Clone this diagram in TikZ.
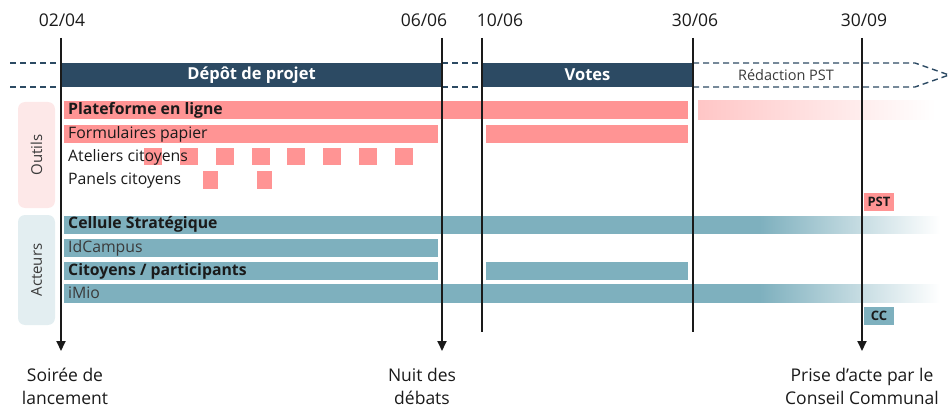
\documentclass[tikz,border=0pt]{standalone}
\usepackage{fontspec}
\setmainfont{Open Sans}
\usetikzlibrary{arrows.meta}
\definecolor{navy}{HTML}{2C4A63}
\definecolor{pinkbar}{HTML}{FF9494}
\definecolor{pinkfade}{HTML}{FFC6C6}
\definecolor{tealbar}{HTML}{7EB0BE}
\definecolor{outilsbg}{HTML}{FDE8E8}
\definecolor{acteursbg}{HTML}{E3EEF1}
\definecolor{txt}{HTML}{1A1A1A}
\definecolor{txtgrey}{HTML}{3A3A3A}
\pgfdeclarehorizontalshading{tealfade}{100bp}{color(0bp)=(tealbar); color(25bp)=(tealbar); color(64.7bp)=(tealbar); color(75bp)=(white); color(100bp)=(white)}
\pgfdeclarehorizontalshading{pinkfadeout}{100bp}{color(0bp)=(pinkfade); color(25bp)=(pinkfade); color(73bp)=(white); color(100bp)=(white)}
\tikzset{
  datelabel/.style={font=\fontsize{17.5}{20}\selectfont, text=txt, inner sep=0pt},
  phasebox/.style={fill=navy, text=white, font=\fontsize{16.5}{20}\selectfont\bfseries, inner sep=0pt},
  dashline/.style={draw=navy, line width=1.4pt, dash pattern=on 6pt off 4pt},
  rowtext/.style={anchor=west, font=\fontsize{15.8}{18}\selectfont, text=txt, inner sep=0pt},
  rowgrey/.style={anchor=west, font=\fontsize{15.8}{18}\selectfont, text=txtgrey, inner sep=0pt},
  sidebox/.style={rotate=90, rounded corners=7pt, minimum height=37pt, inner sep=0pt, text=txtgrey, font=\fontsize{15}{18}\selectfont},
  vline/.style={draw=txt, line width=1.8pt},
  varrow/.style={draw=txt, line width=1.8pt, -{Triangle[length=10pt,width=9pt]}},
  bottomlabel/.style={align=center, font=\fontsize{17.5}{23}\selectfont, text=txt, inner sep=0pt},
  tag/.style={inner sep=0pt, minimum width=30pt, minimum height=18pt, font=\fontsize{13}{15}\selectfont\bfseries, text=txt},
}
\begin{document}
\begin{tikzpicture}[x=1pt,y=-1pt]
\useasboundingbox (0,0) rectangle (951,412);

% side boxes
\node[sidebox, fill=outilsbg, minimum width=106pt] (outils) at (36.5,155) {Outils};
\node[sidebox, fill=acteursbg, minimum width=110pt] (acteurs) at (36.5,270) {Acteurs};

% dashed band
\draw[dashline] (10,63) -- (61,63);
\draw[dashline] (10,87) -- (61,87);
\draw[dashline] (442,63) -- (482,63);
\draw[dashline] (442,87) -- (482,87);
\draw[dashline] (693,63) -- (915,63) -- (949,75) -- (915,87) -- (693,87);

% phases
\node[phasebox, minimum width=381pt, minimum height=24pt] (depot) at (251.5,75) {Dépôt de projet};
\node[phasebox, minimum width=211pt, minimum height=24pt] (votes) at (587.5,75) {Votes};
\node[datelabel, font=\fontsize{14.5}{18}\selectfont, text=txtgrey] (redac) at (786,75) {Rédaction PST};

% Outils rows
\fill[pinkbar] (64,101) rectangle (688,119);
\shade[shading=pinkfadeout] (698,101) rectangle (945,119);
\node[rowtext] (plat) at (68,110) {\bfseries Plateforme en ligne};
\fill[pinkbar] (64,125) rectangle (438,143);
\fill[pinkbar] (486,125) rectangle (688,143);
\node[rowtext] (form) at (68,134) {Formulaires papier};
\foreach \x in {144,180,216,252,287,323,359,395}
  \fill[pinkbar] (\x,148) rectangle ++(18,17);
\node[rowtext] (atel) at (68,157) {Ateliers citoyens};
\fill[pinkbar] (203,171) rectangle (218,189);
\fill[pinkbar] (257,171) rectangle (272,189);
\node[rowtext] (panel) at (68,180) {Panels citoyens};
\node[tag, fill=pinkbar] (pst) at (879,202) {PST};

% Acteurs rows
\shade[shading=tealfade] (64,216) rectangle (940,233);
\node[rowtext] (cell) at (68,224.5) {\bfseries Cellule Stratégique};
\fill[tealbar] (64,239) rectangle (438,257);
\node[rowgrey] (idc) at (68,248) {IdCampus};
\fill[tealbar] (64,262) rectangle (438,280);
\fill[tealbar] (486,262) rectangle (688,280);
\node[rowtext] (cit) at (68,271) {\bfseries Citoyens / participants};
\shade[shading=tealfade] (64,284) rectangle (940,302);
\node[rowgrey] (imio) at (68,293) {iMio};
\node[tag, fill=tealbar] (cc) at (879,315.5) {CC};

% dates
\node[datelabel] (d1) at (62,20) {02/04};
\node[datelabel] (d2) at (424,20) {06/06};
\node[datelabel] (d3) at (500,20) {10/06};
\node[datelabel] (d4) at (695,20) {30/06};
\node[datelabel] (d5) at (864,20) {30/09};

% bottom labels
\node[bottomlabel] (soiree) at (65,386) {Soirée de\\lancement};
\node[bottomlabel] (nuit) at (422,386) {Nuit des\\débats};
\node[bottomlabel] (prise) at (862,386) {Prise d’acte par le\\Conseil Communal};

% vertical lines
\coordinate (t1) at (61,38);  \coordinate (b1) at (61,351);
\coordinate (t2) at (442,38); \coordinate (b2) at (442,351);
\coordinate (t3) at (482,38); \coordinate (b3) at (482,332);
\coordinate (t4) at (693,38); \coordinate (b4) at (693,332);
\coordinate (t5) at (862,38); \coordinate (b5) at (862,351);
\draw[varrow] (t1) -- (b1);
\draw[varrow] (t2) -- (b2);
\draw[vline] (t3) -- (b3);
\draw[vline] (t4) -- (b4);
\draw[varrow] (t5) -- (b5);
\end{tikzpicture}
\end{document}
